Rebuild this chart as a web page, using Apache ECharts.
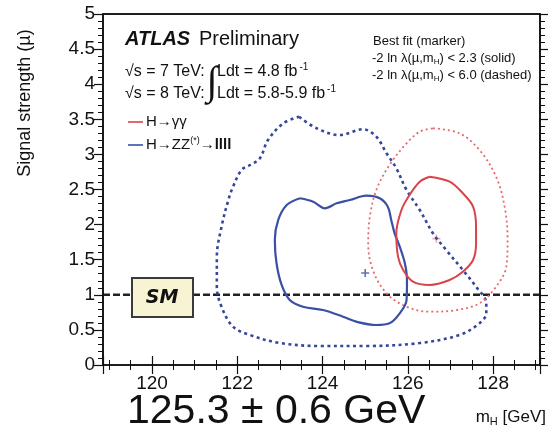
<!DOCTYPE html>
<html>
<head>
<meta charset="utf-8">
<script src="https://cdn.jsdelivr.net/npm/echarts@6/dist/echarts.min.js"></script>
<style>
  html, body { margin: 0; padding: 0; background: #fff; }
  #chart { width: 548px; height: 432px; }
</style>
</head>
<body>
<div id="chart"></div>
<script>
// Axis ranges
const massRange = [118.85, 129.1];
const muRange = [0, 5];

// Standard Model expectation
const smLevel = 1;

// H -> ZZ(*) -> 4l : -2 ln lambda < 2.3 (solid)
const zzSolid = [
  [123.47, 2.375], [123.78, 2.326], [124.05, 2.232], [124.33, 2.303], [124.64, 2.350],
  [125.03, 2.412], [125.34, 2.375], [125.53, 2.255], [125.61, 2.066], [125.69, 1.876],
  [125.81, 1.685], [125.93, 1.449], [125.98, 1.211], [125.97, 0.926], [125.81, 0.736],
  [125.57, 0.594], [125.26, 0.570], [124.79, 0.617], [124.48, 0.688], [124.01, 0.783],
  [123.54, 0.830], [123.23, 0.926], [123.04, 1.140], [122.92, 1.449], [122.88, 1.781],
  [122.96, 2.066], [123.16, 2.279], [123.47, 2.375]
];

// H -> ZZ(*) -> 4l : -2 ln lambda < 6.0 (dashed)
const zzDashed = [
  [123.45, 3.537], [123.86, 3.372], [124.40, 3.276], [124.95, 3.358], [125.26, 3.252],
  [125.50, 3.016], [125.73, 2.802], [125.97, 2.493], [126.28, 2.208], [126.59, 1.876],
  [126.90, 1.638], [127.29, 1.353], [127.60, 1.115], [127.84, 0.879], [127.84, 0.736],
  [127.68, 0.594], [127.21, 0.427], [126.28, 0.313], [125.04, 0.271], [123.93, 0.271],
  [123.00, 0.313], [122.30, 0.427], [121.90, 0.546], [121.63, 0.830], [121.52, 1.115],
  [121.52, 1.543], [121.63, 1.970], [121.79, 2.350], [121.90, 2.540], [122.10, 2.778],
  [122.30, 2.849], [122.53, 2.944], [122.72, 3.205], [123.08, 3.443], [123.45, 3.537]
];

// H -> gamma gamma : -2 ln lambda < 2.3 (solid)
const yySolid = [
  [126.51, 2.682], [126.98, 2.611], [127.29, 2.446], [127.53, 2.255], [127.60, 1.970],
  [127.60, 1.734], [127.53, 1.496], [127.29, 1.329], [126.98, 1.211], [126.51, 1.140],
  [126.12, 1.187], [125.89, 1.353], [125.77, 1.543], [125.73, 1.876], [125.85, 2.208],
  [126.04, 2.422], [126.28, 2.611], [126.51, 2.682]
];

// H -> gamma gamma : -2 ln lambda < 6.0 (dashed)
const yyDashed = [
  [126.59, 3.372], [127.21, 3.301], [127.68, 3.063], [128.07, 2.682], [128.27, 2.255],
  [128.34, 1.781], [128.31, 1.400], [128.07, 1.115], [127.68, 0.879], [127.14, 0.783],
  [126.51, 0.759], [125.97, 0.830], [125.50, 1.021], [125.18, 1.353], [125.07, 1.734],
  [125.11, 2.113], [125.26, 2.493], [125.57, 2.849], [125.97, 3.158], [126.28, 3.323],
  [126.59, 3.372]
];

// Best-fit points
const zzBestFit = [125.0, 1.31];
const yyBestFit = [126.67, 1.80];

const RED = '#d9434a';
const RED_LIGHT = '#e46a70';
const BLUE = '#3a4fa6';
const BLUE_DARK = '#34479a';
const INK = '#111';
const FONT = 'Liberation Sans, Arial, Helvetica, sans-serif';
const PLUS = 'path://M4,0 L6,0 L6,4 L10,4 L10,6 L6,6 L6,10 L4,10 L4,6 L0,6 L0,4 L4,4 Z';

const GRID = { left: 103, right: 8, top: 14, bottom: 67 };
const W = 548, H = 432;

// Major and minor ticks pointing into the plot; labels only on bottom / left
function massAxis(position, labels) {
  return {
    type: 'value', position: position, min: massRange[0], max: massRange[1], splitNumber: 5,
    zlevel: 1, z: 50,
    axisLine: { show: false },
    axisTick: { show: true, inside: true, length: -9, lineStyle: { color: INK, width: 1.2 } },
    minorTick: { show: true, splitNumber: 4, length: -5, lineStyle: { color: INK, width: 1 } },
    splitLine: { show: false }, minorSplitLine: { show: false },
    axisLabel: labels ? {
      show: true, showMinLabel: false, showMaxLabel: false,
      color: INK, fontFamily: FONT, fontSize: 19, margin: 9
    } : { show: false }
  };
}
function muAxis(position, labels) {
  return {
    type: 'value', position: position, min: muRange[0], max: muRange[1], splitNumber: 10,
    zlevel: 1, z: 50,
    axisLine: { show: false },
    axisTick: { show: true, inside: true, length: -9, lineStyle: { color: INK, width: 1.2 } },
    minorTick: { show: true, splitNumber: 5, length: -5, lineStyle: { color: INK, width: 1 } },
    splitLine: { show: false }, minorSplitLine: { show: false },
    axisLabel: labels ? { show: true, color: INK, fontFamily: FONT, fontSize: 19, margin: 8 } : { show: false }
  };
}

const chart = echarts.init(document.getElementById('chart'));

chart.setOption({
  animation: false,
  grid: Object.assign({ show: true, borderColor: INK, borderWidth: 1.6, backgroundColor: 'rgba(0,0,0,0)' }, GRID),
  xAxis: [massAxis('bottom', true), massAxis('top', false)],
  yAxis: [muAxis('left', true), muAxis('right', false)],
  series: [
    {
      name: 'SM', type: 'line', symbol: 'none',
      data: [[massRange[0], smLevel], [massRange[1], smLevel]],
      lineStyle: { color: '#222', width: 2.5, type: [7, 3] }
    },
    {
      name: 'ZZ dashed', type: 'line', symbol: 'none', smooth: 0.35,
      data: zzDashed, lineStyle: { color: BLUE_DARK, width: 2.6, type: [3, 3.5] }
    },
    {
      name: 'yy dashed', type: 'line', symbol: 'none', smooth: 0.35,
      data: yyDashed, lineStyle: { color: RED_LIGHT, width: 1.8, type: [2, 3] }
    },
    {
      name: 'ZZ solid', type: 'line', symbol: 'none', smooth: 0.35,
      data: zzSolid, lineStyle: { color: BLUE, width: 2.2 }
    },
    {
      name: 'yy solid', type: 'line', symbol: 'none', smooth: 0.35,
      data: yySolid, lineStyle: { color: RED, width: 2 }
    },
    {
      name: 'ZZ best fit', type: 'scatter', symbol: PLUS, symbolSize: 8,
      data: [zzBestFit], itemStyle: { color: BLUE }
    },
    {
      name: 'yy best fit', type: 'scatter', symbol: PLUS, symbolSize: 8,
      data: [yyBestFit], itemStyle: { color: '#e59a9a' }
    }
  ],
  graphic: [
    // plot frame around the grid, on its own layer
    {
      type: 'rect', zlevel: 1, z: 60,
      shape: { x: GRID.left, y: GRID.top, width: W - GRID.left - GRID.right, height: H - GRID.top - GRID.bottom },
      style: { fill: 'rgba(0,0,0,0)', stroke: INK, lineWidth: 1.6 }
    },
    // y axis title
    {
      type: 'text', x: 25, y: 103, rotation: Math.PI / 2,
      style: { text: 'Signal strength (µ)', font: '18px ' + FONT, fill: INK, align: 'center', verticalAlign: 'middle' }
    },
    // ATLAS label
    { type: 'text', x: 125, y: 39, style: { text: 'ATLAS', font: 'italic bold 20px ' + FONT, fill: INK, verticalAlign: 'middle' } },
    { type: 'text', x: 199, y: 39, style: { text: 'Preliminary', font: '20px ' + FONT, fill: INK, verticalAlign: 'middle' } },
    // energies and luminosities
    { type: 'text', x: 125, y: 72, style: { text: '√s = 7 TeV:', font: '16px ' + FONT, fill: INK, verticalAlign: 'middle' } },
    { type: 'text', x: 125, y: 94, style: { text: '√s = 8 TeV:', font: '16px ' + FONT, fill: INK, verticalAlign: 'middle' } },
    {
      type: 'text', x: 212, y: 83,
      style: { text: '∫', font: '40px "Liberation Serif", serif', fill: INK, align: 'center', verticalAlign: 'middle' }
    },
    {
      type: 'text', x: 217, y: 72,
      style: {
        text: '{n|Ldt = 4.8 fb}{s|-1}', verticalAlign: 'middle',
        rich: {
          n: { font: '16px ' + FONT, fill: INK, lineHeight: 20 },
          s: { font: '10px ' + FONT, fill: INK, lineHeight: 10, verticalAlign: 'top', padding: [0, 0, 0, 2] }
        }
      }
    },
    {
      type: 'text', x: 217, y: 94,
      style: {
        text: '{n|Ldt = 5.8-5.9 fb}{s|-1}', verticalAlign: 'middle',
        rich: {
          n: { font: '16px ' + FONT, fill: INK, lineHeight: 20 },
          s: { font: '10px ' + FONT, fill: INK, lineHeight: 10, verticalAlign: 'top', padding: [0, 0, 0, 2] }
        }
      }
    },
    // channel legend
    { type: 'line', shape: { x1: 128, y1: 122, x2: 143, y2: 122 }, style: { stroke: RED, lineWidth: 1.6 } },
    { type: 'text', x: 146, y: 122, style: { text: 'H→γγ', font: '15px ' + FONT, fill: INK, verticalAlign: 'middle' } },
    { type: 'line', shape: { x1: 128, y1: 145, x2: 143, y2: 145 }, style: { stroke: BLUE, lineWidth: 1.6 } },
    {
      type: 'text', x: 146, y: 145,
      style: {
        text: '{n|H→ZZ}{s|(*)}{n|→}{b|llll}', verticalAlign: 'middle',
        rich: {
          n: { font: '15px ' + FONT, fill: INK, lineHeight: 18 },
          b: { font: 'bold 15px ' + FONT, fill: INK, lineHeight: 18 },
          s: { font: '9px ' + FONT, fill: INK, lineHeight: 9, verticalAlign: 'top' }
        }
      }
    },
    // contour description
    { type: 'text', x: 373, y: 41, style: { text: 'Best fit (marker)', font: '13px ' + FONT, fill: INK, verticalAlign: 'middle' } },
    {
      type: 'text', x: 372, y: 58,
      style: {
        text: '{n|-2 ln λ(µ,m}{s|H}{n|) < 2.3 (solid)}', verticalAlign: 'middle',
        rich: {
          n: { font: '13px ' + FONT, fill: INK, lineHeight: 16 },
          s: { font: '8px ' + FONT, fill: INK, lineHeight: 8, verticalAlign: 'bottom' }
        }
      }
    },
    {
      type: 'text', x: 372, y: 75,
      style: {
        text: '{n|-2 ln λ(µ,m}{s|H}{n|) < 6.0 (dashed)}', verticalAlign: 'middle',
        rich: {
          n: { font: '13px ' + FONT, fill: INK, lineHeight: 16 },
          s: { font: '8px ' + FONT, fill: INK, lineHeight: 8, verticalAlign: 'bottom' }
        }
      }
    },
    // SM tag
    {
      type: 'rect', shape: { x: 132, y: 278, width: 61, height: 39 },
      style: { fill: '#f8f3d2', stroke: '#3a3a3a', lineWidth: 2 }, z: 10
    },
    {
      type: 'text', x: 162, y: 298, z: 11,
      style: { text: 'SM', font: 'italic bold 19px "Comic Sans MS", "DejaVu Sans", sans-serif', fill: INK, align: 'center', verticalAlign: 'middle' }
    },
    // combined mass result
    { type: 'text', x: 127, y: 412, style: { text: '125.3 ± 0.6 GeV', font: '41px ' + FONT, fill: INK, verticalAlign: 'middle' } },
    // x axis title
    {
      type: 'text', x: 546, y: 417,
      style: {
        text: '{n|m}{s|H}{n| [GeV]}', align: 'right', verticalAlign: 'middle',
        rich: {
          n: { font: '17px ' + FONT, fill: INK, lineHeight: 20 },
          s: { font: '11px ' + FONT, fill: INK, lineHeight: 11, verticalAlign: 'bottom' }
        }
      }
    }
  ]
});
</script>
</body>
</html>
